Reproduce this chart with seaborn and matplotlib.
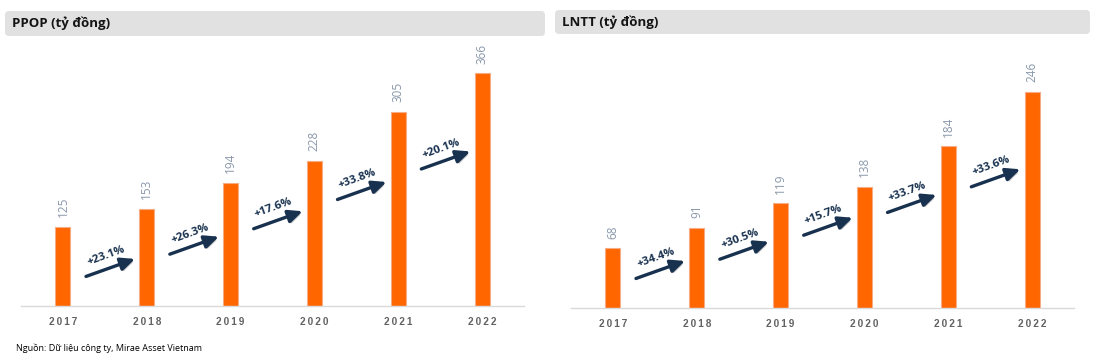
import matplotlib
matplotlib.use("Agg")
import matplotlib.pyplot as plt
import matplotlib.patheffects as pe
from matplotlib.patches import FancyBboxPatch
from matplotlib.transforms import IdentityTransform
import seaborn as sns
import pandas as pd

# ---------------- data ----------------
years = ["2017", "2018", "2019", "2020", "2021", "2022"]
ppop = [125, 153, 194, 228, 305, 366]
lntt = [68, 91, 119, 138, 184, 246]
ppop_growth = ["+23.1%", "+26.3%", "+17.6%", "+33.8%", "+20.1%"]
lntt_growth = ["+34.4%", "+30.5%", "+15.7%", "+33.7%", "+33.6%"]
titles = ["PPOP (tỷ đồng)", "LNTT (tỷ đồng)"]
source = "Nguồn: Dữ liệu công ty, Mirae Asset Vietnam"

# ---------------- layout (not data) ----------------
W, H = 1096, 362
DPI = 100
ppop_arrow_y = [74, 109, 149, 195, 243]      # arrow head heights (axis units)
lntt_arrow_y = [53.5, 75.4, 102.7, 128.6, 157.8]

BAR = "#ff6600"
NAVY = "#18314f"
VALC = "#8a98ab"

sns.set_theme(style="white")
plt.rcParams["font.family"] = ["Open Sans", "DejaVu Sans"]

fig = plt.figure(figsize=(W / DPI, H / DPI), dpi=DPI)
fig.patch.set_facecolor("white")


def px_axes(x0, y_top, x1, y_bot):
    return fig.add_axes([x0 / W, 1 - y_bot / H, (x1 - x0) / W, (y_bot - y_top) / H])


panels = [
    dict(vals=ppop, growth=ppop_growth, ay=ppop_arrow_y, box=(5, 11, 545, 36),
         ax=(21, 45, 524, 306), ymax=410.4, title=titles[0]),
    dict(vals=lntt, growth=lntt_growth, ay=lntt_arrow_y, box=(555, 10, 1090, 34),
         ax=(571, 45, 1074, 308), ymax=299.2, title=titles[1]),
]

for p in panels:
    bx0, by0, bx1, by1 = p["box"]
    box = FancyBboxPatch((bx0, H - by1), bx1 - bx0, by1 - by0,
                         boxstyle="round,pad=0,rounding_size=4",
                         transform=IdentityTransform(), fc="#e1e1e1", ec="none", zorder=0)
    fig.add_artist(box)
    fig.text((bx0 + 7) / W, 1 - ((by0 + by1) / 2) / H, p["title"], ha="left", va="center",
             fontsize=9.5, fontweight="bold", color="#141414")

    ax = px_axes(*p["ax"])
    df = pd.DataFrame({"year": years, "value": p["vals"]})
    sns.barplot(data=df, x="year", y="value", ax=ax, color=BAR, saturation=1,
                width=0.18, edgecolor="#f6ad86", linewidth=0.8)
    ax.set_xlim(-0.5, len(years) - 0.5)
    ax.set_ylim(0, p["ymax"])
    ax.set_xlabel("")
    ax.set_ylabel("")
    ax.set_yticks([])
    for s in ["left", "right", "top"]:
        ax.spines[s].set_visible(False)
    ax.spines["bottom"].set_color("#d9d9d9")
    ax.spines["bottom"].set_linewidth(1.0)
    ax.set_xticks(range(len(years)))
    ax.set_xticklabels(["\u2009".join(y) for y in years], fontsize=7.2,
                       fontweight="bold", color="#626262",
                       family=["Liberation Sans", "DejaVu Sans"])
    ax.tick_params(axis="x", length=0, pad=8)

    for i, v in enumerate(p["vals"]):
        ax.annotate(str(v), xy=(i, v), xytext=(0, 7), textcoords="offset points",
                    rotation=90, ha="center", va="bottom", fontsize=8.5,
                    color=VALC)

    for i, (g, yh) in enumerate(zip(p["growth"], p["ay"])):
        xh = i + 0.86
        ann = ax.annotate("", xy=(xh, yh), xytext=(-49 * 0.72, -17.5 * 0.72),
                          textcoords="offset points",
                          arrowprops=dict(arrowstyle="-|>,head_length=0.7,head_width=0.32",
                                          lw=2.4, color=NAVY, shrinkA=0, shrinkB=0))
        ann.arrow_patch.set_path_effects([
            pe.SimplePatchShadow(offset=(1.2, -1.5), shadow_rgbFace="#7f7f7f", alpha=0.45),
            pe.Normal()])
        ax.annotate(g, xy=(xh, yh), xytext=(-29 * 0.72, 3 * 0.72),
                    textcoords="offset points", rotation=20, rotation_mode="anchor",
                    ha="center", va="center", fontsize=8.2, fontweight="bold", color=NAVY)

fig.text(16 / W, 1 - 348 / H, source, ha="left", va="center", fontsize=6.5, color="#000000")

fig.savefig("out.png", dpi=DPI, facecolor="white")
